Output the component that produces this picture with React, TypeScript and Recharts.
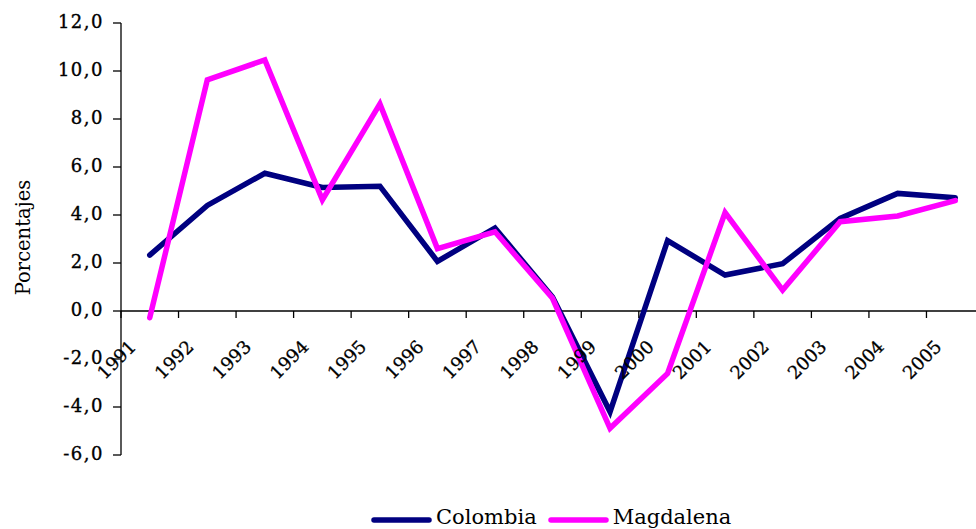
import { LineChart, Line, XAxis, YAxis, ReferenceLine, Legend, Label } from 'recharts';

const YEARS = ['1991', '1992', '1993', '1994', '1995', '1996', '1997', '1998', '1999', '2000', '2001', '2002', '2003', '2004', '2005'];
const COLOMBIA = [2.33, 4.4, 5.74, 5.15, 5.2, 2.07, 3.46, 0.58, -4.2, 2.93, 1.5, 1.97, 3.86, 4.9, 4.72];
const MAGDALENA = [-0.28, 9.63, 10.46, 4.63, 8.63, 2.6, 3.3, 0.53, -4.89, -2.6, 4.1, 0.87, 3.72, 3.96, 4.6];
const Y_TICKS = [-6, -4, -2, 0, 2, 4, 6, 8, 10, 12];

const NAVY = '#000080';
const PINK = '#FF00FF';
const FONT = '"DejaVu Serif", serif';

const Y_MIN = -6;
const Y_MAX = 12;
const MARGIN = { top: 23, right: 0, bottom: 44, left: 0 };
const CHART_W = 984;
const CHART_H = 529;
const X_AXIS_H = 30;
const PLOT_H = CHART_H - MARGIN.top - MARGIN.bottom - X_AXIS_H;

// points sit mid-way between the year ticks, as in the original
const data = YEARS.map((year, i) => ({
  year,
  pos: i + 0.5,
  colombia: COLOMBIA[i],
  magdalena: MAGDALENA[i],
}));
const X_TICKS = YEARS.map((_, i) => i);

const fmt = (v: number) => v.toFixed(1).replace('.', ',');

function YTick({ x, y, payload }: any) {
  return (
    <text x={x} y={y} dy={5} textAnchor="end" fontFamily={FONT} fontSize={18} letterSpacing={1.5} fill="#000" stroke="#000" strokeWidth={0.35}>
      {fmt(payload.value)}
    </text>
  );
}

// x axis is drawn on the zero line rather than at the bottom of the plot
function XTick({ x, y, payload }: any) {
  const zeroY = y - (PLOT_H * (0 - Y_MIN)) / (Y_MAX - Y_MIN);
  const ly = zeroY + 53;
  const label = YEARS[payload.value];
  return (
    <g>
      <line x1={x} y1={zeroY} x2={x} y2={zeroY + 7} stroke="#000" strokeWidth={1.3} />
      {label && (
        <text x={x} y={ly} textAnchor="middle" transform={`rotate(-45 ${x} ${ly})`} fontFamily={FONT} fontSize={18} fill="#000" stroke="#000" strokeWidth={0.3}>
          {label}
        </text>
      )}
    </g>
  );
}

function YTitle({ viewBox }: any) {
  const cx = viewBox.x + 23;
  const cy = viewBox.y + viewBox.height / 2 - 1.5;
  return (
    <text x={cx} y={cy} textAnchor="middle" dominantBaseline="central" transform={`rotate(-90 ${cx} ${cy})`} fontFamily={FONT} fontSize={19.5} fill="#000">
      Porcentajes
    </text>
  );
}

const LEGEND = [
  { name: 'Colombia', color: NAVY },
  { name: 'Magdalena', color: PINK },
];

function LegendBox() {
  return (
    <div style={{ display: 'flex', alignItems: 'flex-start', marginLeft: 370, fontFamily: FONT, fontSize: 21, lineHeight: '24px', color: '#000' }}>
      {LEGEND.map((item, i) => (
        <div key={item.name} style={{ display: 'flex', alignItems: 'flex-start', marginRight: i === 0 ? 10 : 0 }}>
          <svg width={66} height={24} style={{ display: 'block' }}>
            <line x1={4} y1={15} x2={59} y2={15} stroke={item.color} strokeWidth={5.5} strokeLinecap="round" />
          </svg>
          <span>{item.name}</span>
        </div>
      ))}
    </div>
  );
}

export default function App() {
  return (
    <div style={{ position: 'absolute', left: 0, top: 0, width: 976, height: 529, overflow: 'hidden', background: '#fff' }}>
      <LineChart width={CHART_W} height={CHART_H} data={data} margin={MARGIN}>
        <XAxis
          dataKey="pos"
          type="number"
          domain={[0, YEARS.length]}
          ticks={X_TICKS}
          interval={0}
          height={X_AXIS_H}
          axisLine={false}
          tickLine={false}
          tickSize={0}
          tickMargin={0}
          tick={<XTick />}
        />
        <YAxis
          width={121}
          domain={[Y_MIN, Y_MAX]}
          ticks={Y_TICKS}
          interval={0}
          allowDataOverflow
          axisLine={{ stroke: '#000', strokeWidth: 1.3 }}
          tickLine={{ stroke: '#000', strokeWidth: 1.3 }}
          tickSize={8}
          tickMargin={9}
          tick={<YTick />}
        >
          <Label content={<YTitle />} />
        </YAxis>
        <ReferenceLine y={0} stroke="#000" strokeWidth={1.5} />
        <Line dataKey="colombia" stroke={NAVY} strokeWidth={5.5} dot={false} activeDot={false} strokeLinecap="round" isAnimationActive={false} />
        <Line dataKey="magdalena" stroke={PINK} strokeWidth={5.5} dot={false} activeDot={false} strokeLinecap="round" isAnimationActive={false} />
        <Legend verticalAlign="middle" layout="horizontal" wrapperStyle={{ left: 0, top: 505, width: 976, height: 26 }} content={() => <LegendBox />} />
      </LineChart>
    </div>
  );
}
